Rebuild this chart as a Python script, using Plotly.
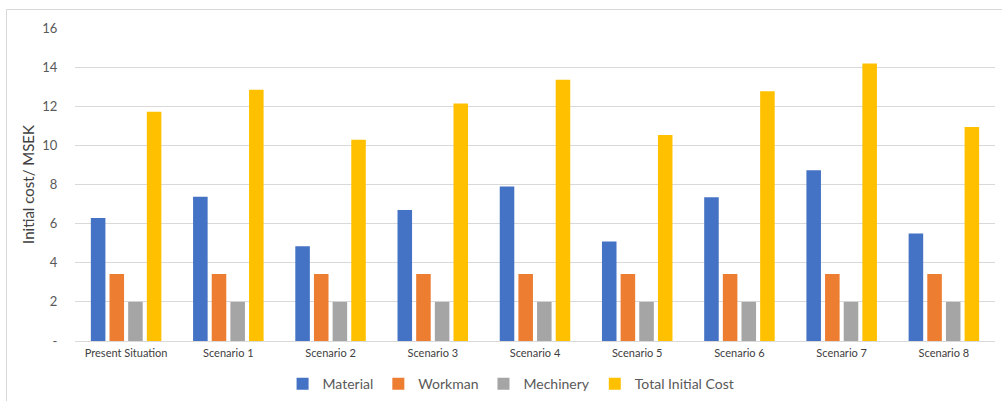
import plotly.graph_objects as go

categories = ["Present Situation", "Scenario 1", "Scenario 2", "Scenario 3", "Scenario 4",
              "Scenario 5", "Scenario 6", "Scenario 7", "Scenario 8"]
material = [6.29, 7.38, 4.84, 6.70, 7.90, 5.08, 7.35, 8.73, 5.49]
workman = [3.43, 3.43, 3.43, 3.43, 3.43, 3.43, 3.43, 3.43, 3.43]
mechinery = [2.0, 2.0, 2.0, 2.0, 2.0, 2.0, 2.0, 2.0, 2.0]
total = [11.72, 12.84, 10.29, 12.14, 13.35, 10.53, 12.77, 14.19, 10.94]

series_names = ["Material", "Workman", "Mechinery", "Total Initial Cost"]
colors = ["#4472C4", "#ED7D31", "#A5A5A5", "#FFC000"]

ytickvals = [0, 2, 4, 6, 8, 10, 12, 14, 16]
yticktext = ["-", "2", "4", "6", "8", "10", "12", "14", "16"]

font_family = "Lato, 'Open Sans', sans-serif"

fig = go.Figure()
for name, vals, col in zip(series_names, [material, workman, mechinery, total], colors):
    fig.add_trace(go.Bar(x=categories, y=vals, name=name, marker_color=col,
                         marker_line_width=0))

fig.update_layout(
    width=1002, height=401,
    margin=dict(l=75, r=7, t=28, b=60, autoexpand=False),
    paper_bgcolor="white", plot_bgcolor="white",
    barmode="group", bargap=0.27, bargroupgap=0.22,
    font=dict(family=font_family, color="#595959"),
    legend=dict(orientation="h", x=0.474, xanchor="center", y=-0.138, yanchor="middle",
                font=dict(size=14, color="#595959"), itemwidth=30,
                traceorder="normal", tracegroupgap=0),
    showlegend=True,
)
fig.update_xaxes(showgrid=False, showline=False, ticks="", automargin=False,
                 tickfont=dict(size=11, color="#404040"), ticklabelstandoff=4)
fig.update_yaxes(range=[0, 16], tickvals=ytickvals, ticktext=yticktext, automargin=False,
                 showgrid=True, gridcolor="#D9D9D9", gridwidth=1,
                 zeroline=True, zerolinecolor="#D9D9D9", zerolinewidth=1,
                 showline=False, ticks="outside", ticklen=14, tickcolor="rgba(0,0,0,0)",
                 tickfont=dict(size=13, color="#595959"),
                 title=dict(text="Initial cost/ MSEK", font=dict(size=15, color="#404040"),
                            standoff=4))

# chart-area border
fig.add_shape(type="rect", xref="paper", yref="paper",
              x0=(6.5 - 75) / 920, x1=1.1, y0=-0.5, y1=(341 - 9.5) / 313,
              line=dict(color="#D9D9D9", width=1), fillcolor="rgba(0,0,0,0)", layer="below")

fig.write_html("out.html")
